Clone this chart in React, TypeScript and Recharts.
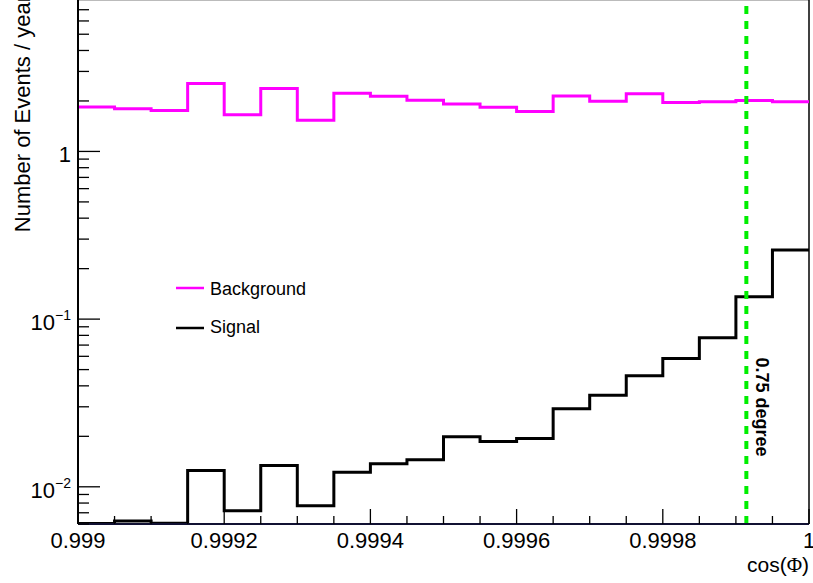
import { ComposedChart, Line, XAxis, YAxis, ReferenceLine, Legend } from 'recharts'

// bin edges of the cos(Phi) histogram (20 bins)
const binEdges = [
  0.999, 0.99905, 0.9991, 0.99915, 0.9992, 0.99925, 0.9993, 0.99935, 0.9994, 0.99945, 0.9995,
  0.99955, 0.9996, 0.99965, 0.9997, 0.99975, 0.9998, 0.99985, 0.9999, 0.99995, 1,
]

const signal = [
  0.00605, 0.00625, 0.00607, 0.0125, 0.0072, 0.0134, 0.0077, 0.0122, 0.0137, 0.0145,
  0.0199, 0.0186, 0.0194, 0.0292, 0.0352, 0.0459, 0.0582, 0.0774, 0.136, 0.258,
]

const background = [
  1.84, 1.8, 1.755, 2.54, 1.654, 2.37, 1.536, 2.22, 2.13, 2.02,
  1.92, 1.836, 1.73, 2.14, 1.994, 2.21, 1.957, 1.975, 2.01, 1.98,
]

const xMajorTicks = [0.999, 0.9992, 0.9994, 0.9996, 0.9998, 1]
const xTickLabels = ['0.999', '0.9992', '0.9994', '0.9996', '0.9998', '1']

const yMajorTicks = [0.01, 0.1, 1]
const yTickBase = ['10', '10', '1']
const yTickExp = ['\u22122', '\u22121', '']
const yMinorTicks = [
  0.006, 0.007, 0.008, 0.009, 0.02, 0.03, 0.04, 0.05, 0.06, 0.07, 0.08, 0.09,
  0.2, 0.3, 0.4, 0.5, 0.6, 0.7, 0.8, 0.9, 2, 3, 4, 5, 6, 7,
]

const cutValue = 0.9999143 // cos(0.75 deg)

const legendLabels = ['Background', 'Signal']
const legendColors = ['#ff00ff', '#000000']

const FONT = '"Liberation Sans", Arial, Helvetica, sans-serif'

// step histogram: one row per bin edge, last edge repeats the last bin
const rows = binEdges.map((x, i) => ({
  x,
  signal: signal[Math.min(i, signal.length - 1)],
  background: background[Math.min(i, background.length - 1)],
}))

const yTicks = [...yMinorTicks, ...yMajorTicks].sort((a, b) => a - b)

function XTick(props: any) {
  const { x, y, payload } = props
  const idx = xMajorTicks.findIndex((t) => Math.abs(t - payload.value) < 1e-9)
  const major = idx >= 0
  return (
    <g>
      <line x1={x} x2={x} y1={y} y2={y - (major ? 15 : 8)} stroke="#000" strokeWidth={1.3} />
      {major && (
        <text x={x} y={y + 24} textAnchor="middle" fontSize={22} fontFamily={FONT} fill="#000">
          {xTickLabels[idx]}
        </text>
      )}
    </g>
  )
}

function YTick(props: any) {
  const { x, y, payload } = props
  const idx = yMajorTicks.findIndex((t) => Math.abs(t - payload.value) / t < 1e-6)
  const major = idx >= 0
  return (
    <g>
      <line x1={x} x2={x + (major ? 22 : 11)} y1={y} y2={y} stroke="#000" strokeWidth={1.3} />
      {major && (
        <text x={x - 7} y={y + 11} textAnchor="end" fontSize={22} fontFamily={FONT} fill="#000">
          {yTickBase[idx]}
          {yTickExp[idx] && (
            <tspan dy={-10} fontSize={14}>
              {yTickExp[idx]}
            </tspan>
          )}
        </text>
      )}
    </g>
  )
}

function CutLabel(props: any) {
  const vb = props.viewBox || {}
  const cx = (vb.x || 0) + 10
  const cy = 407
  return (
    <text
      x={cx}
      y={cy}
      transform={`rotate(90 ${cx} ${cy})`}
      textAnchor="middle"
      fontSize={18}
      fontWeight="bold"
      fontFamily={FONT}
      fill="#000"
    >
      0.75 degree
    </text>
  )
}

function LegendBox() {
  return (
    <svg width={160} height={72}>
      {legendLabels.map((l, i) => (
        <g key={l}>
          <line x1={6} x2={34} y1={16 + i * 40} y2={16 + i * 40} stroke={legendColors[i]} strokeWidth={2.5} />
          <text x={40} y={23 + i * 38} fontSize={18} fontFamily={FONT} fill="#000">
            {l}
          </text>
        </g>
      ))}
    </svg>
  )
}

export default function App() {
  return (
    <div style={{ position: 'relative', width: 813, height: 583, background: '#fff' }}>
      <style>{'body { margin: 0; }'}</style>
      <ComposedChart width={813} height={583} data={rows} margin={{ top: 0, right: 4, left: 0, bottom: 0 }}>
        <XAxis
          dataKey="x"
          type="number"
          domain={[0.999, 1]}
          allowDataOverflow
          ticks={binEdges}
          interval={0}
          tickSize={0}
          tickMargin={0}
          tickLine={false}
          height={59}
          axisLine={{ stroke: '#111133', strokeWidth: 2 }}
          tick={<XTick />}
        />
        <YAxis
          scale="log"
          domain={[0.006, 8]}
          allowDataOverflow
          ticks={yTicks}
          interval={0}
          tickSize={0}
          tickMargin={0}
          tickLine={false}
          width={78}
          axisLine={{ stroke: '#000', strokeWidth: 2 }}
          tick={<YTick />}
        />
        <ReferenceLine y={8} stroke="#bbbbbb" strokeWidth={2} />
        <ReferenceLine x={1} stroke="#000" strokeWidth={1.5} />
        <Line
          dataKey="background"
          type="stepAfter"
          stroke="#ff00ff"
          strokeWidth={3}
          dot={false}
          activeDot={false}
          isAnimationActive={false}
        />
        <Line
          dataKey="signal"
          type="stepAfter"
          stroke="#000"
          strokeWidth={3}
          dot={false}
          activeDot={false}
          isAnimationActive={false}
        />
        <ReferenceLine
          x={cutValue}
          stroke="#00ee00"
          strokeWidth={4}
          strokeDasharray="8 7"
          label={<CutLabel />}
        />
        <Legend
          layout="vertical"
          align="center"
          verticalAlign="middle"
          wrapperStyle={{ left: 170, top: 272, width: 160, height: 72 }}
          content={() => <LegendBox />}
        />
      </ComposedChart>
      <svg width={813} height={583} style={{ position: 'absolute', left: 0, top: 0, pointerEvents: 'none' }}>
        <text
          x={30}
          y={-5}
          transform="rotate(-90 30 -5)"
          textAnchor="end"
          fontSize={22}
          fontFamily={FONT}
          fill="#000"
        >
          Number of Events / year
        </text>
        <text x={809} y={572} textAnchor="end" fontSize={21} fontFamily={FONT} fill="#000">
          cos(<tspan fontFamily='"Liberation Serif", "DejaVu Serif", serif'>Φ</tspan>)
        </text>
      </svg>
    </div>
  )
}
